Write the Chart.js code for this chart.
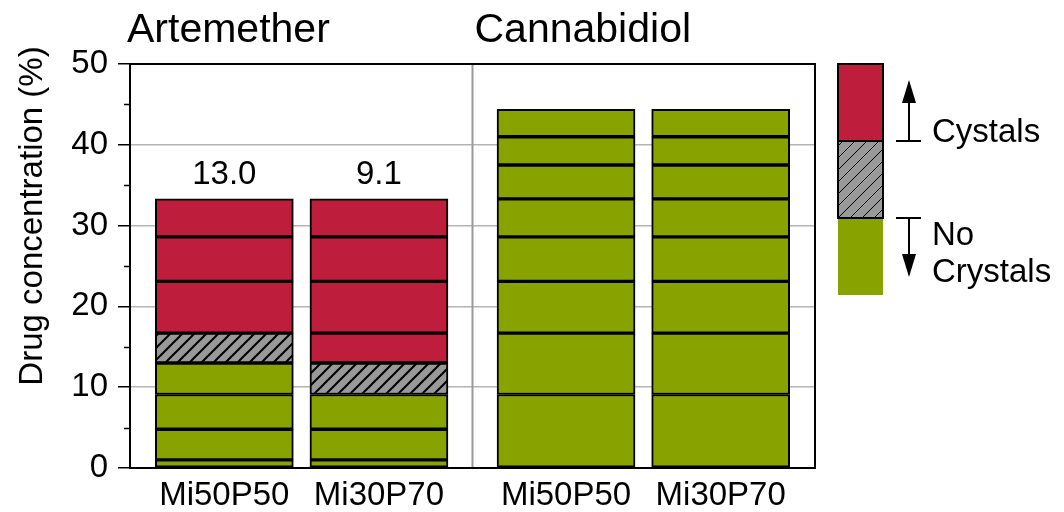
<!DOCTYPE html>
<html>
<head>
<meta charset="utf-8">
<script src="https://cdn.jsdelivr.net/npm/chart.js@4"></script>
<style>
html,body{margin:0;padding:0;background:#fff;}
</style>
</head>
<body>
<canvas id="grafica" width="1064" height="512"></canvas>
<script>
// datos
var farmacos = ['Artemether', 'Cannabidiol'];
var formulaciones = ['Mi50P50', 'Mi30P70', 'Mi50P50', 'Mi30P70'];
var posX = [0.61, 1.61, 2.82, 3.82];
var nivelesArtemether = [0, 1.0, 4.8, 9.1, 13.0, 16.7, 23.1, 28.6, 33.3];
var nivelesCannabidiol = [0, 9.1, 16.7, 23.1, 28.6, 33.3, 37.5, 41.0, 44.4];
var maxSinCristales = [13.0, 9.1, 44.4, 44.4];
var etiquetasBarra = ['13.0', '9.1', '', ''];
var ticksY = [0, 10, 20, 30, 40, 50];

var niveles = [nivelesArtemether, nivelesArtemether, nivelesCannabidiol, nivelesCannabidiol];

var rojo = '#be1e3c';
var verde = '#88a300';
var fuente = "'Liberation Sans', Arial, sans-serif";

function crearRayado(grosor){
    var c = document.createElement('canvas');
    c.width = 12; c.height = 12;
    var g = c.getContext('2d');
    g.fillStyle = '#999999';
    g.fillRect(0, 0, 12, 12);
    g.strokeStyle = '#000';
    g.lineWidth = grosor;
    g.beginPath();
    g.moveTo(-2, 14); g.lineTo(14, -2);
    g.moveTo(-8, 8); g.lineTo(8, -8);
    g.moveTo(4, 20); g.lineTo(20, 4);
    g.stroke();
    return g.createPattern(c, 'repeat');
}
var rayado = crearRayado(2);
var rayadoLeyenda = crearRayado(1);

function colorSegmento(barra, k){
    var lo = niveles[barra][k];
    var hi = niveles[barra][k + 1];
    if(hi <= maxSinCristales[barra]) return verde;
    if(lo == maxSinCristales[barra]) return rayado;
    return rojo;
}

var datasets = [];
for(var k = 0; k < 8; k++){
    var datos = [];
    var colores = [];
    for(var i = 0; i < 4; i++){
        datos.push({x: posX[i], y: [niveles[i][k], niveles[i][k + 1]]});
        colores.push(colorSegmento(i, k));
    }
    datasets.push({
        data: datos,
        backgroundColor: colores,
        borderColor: '#000',
        borderWidth: 2,
        borderSkipped: false,
        barThickness: 138,
        grouped: false
    });
}

var extras = {
    id: 'extras',
    beforeDatasetsDraw: function(chart){
        var ctx = chart.ctx;
        var a = chart.chartArea;
        var xs = chart.scales.x;
        var mitad = (xs.min + xs.max) / 2;
        ctx.save();
        ctx.strokeStyle = '#999';
        ctx.lineWidth = 2;
        ctx.beginPath();
        ctx.moveTo(xs.getPixelForValue(mitad), a.top);
        ctx.lineTo(xs.getPixelForValue(mitad), a.bottom);
        ctx.stroke();
        ctx.restore();
    },
    afterDatasetsDraw: function(chart){
        var ctx = chart.ctx;
        var a = chart.chartArea;
        var ys = chart.scales.y;
        var xs = chart.scales.x;
        ctx.save();
        // marco
        ctx.strokeStyle = '#000';
        ctx.lineWidth = 2;
        ctx.strokeRect(a.left, a.top, a.right - a.left, a.bottom - a.top);
        // ticks menores
        ctx.beginPath();
        for(var v = 5; v < 50; v += 10){
            var py = Math.round(ys.getPixelForValue(v)) + 0.5;
            ctx.moveTo(a.left - 6, py);
            ctx.lineTo(a.left, py);
        }
        ctx.lineWidth = 1.5;
        ctx.stroke();
        // etiquetas sobre barras
        ctx.fillStyle = '#000';
        ctx.font = '33px ' + fuente;
        ctx.textAlign = 'center';
        ctx.textBaseline = 'alphabetic';
        var arriba = chart.getDatasetMeta(7).data;
        for(var i = 0; i < 4; i++){
            if(etiquetasBarra[i] != ''){
                ctx.fillText(etiquetasBarra[i], arriba[i].x, arriba[i].y - 15);
            }
        }
        // titulos de grupo
        ctx.textAlign = 'left';
        ctx.font = '41px ' + fuente;
        var mitad = xs.getPixelForValue((xs.min + xs.max) / 2);
        ctx.fillText(farmacos[0], a.left - 3, 42);
        ctx.fillText(farmacos[1], mitad + 2, 42);
        // titulo eje y
        ctx.save();
        ctx.translate(42, 216);
        ctx.rotate(-Math.PI / 2);
        ctx.textAlign = 'center';
        ctx.font = '33px ' + fuente;
        ctx.fillText('Drug concentration (%)', 0, 0);
        ctx.restore();
        ctx.restore();
    },
    afterDraw: function(chart){
        var ctx = chart.ctx;
        ctx.save();
        ctx.fillStyle = rojo;
        ctx.fillRect(838, 64, 45, 77);
        ctx.fillStyle = rayadoLeyenda;
        ctx.fillRect(838, 141, 45, 77);
        ctx.fillStyle = verde;
        ctx.fillRect(838, 218, 45, 77);
        ctx.strokeStyle = '#000';
        ctx.lineWidth = 2;
        ctx.strokeRect(838, 64, 45, 77);
        ctx.strokeRect(838, 141, 45, 77);
        // flechas
        ctx.beginPath();
        ctx.moveTo(896, 141); ctx.lineTo(921, 141);
        ctx.moveTo(909, 141); ctx.lineTo(909, 100);
        ctx.moveTo(896, 218); ctx.lineTo(921, 218);
        ctx.moveTo(909, 218); ctx.lineTo(909, 258);
        ctx.lineWidth = 2;
        ctx.stroke();
        ctx.fillStyle = '#000';
        ctx.beginPath();
        ctx.moveTo(902, 103); ctx.lineTo(916, 103); ctx.lineTo(909, 80); ctx.closePath();
        ctx.fill();
        ctx.beginPath();
        ctx.moveTo(902, 254); ctx.lineTo(916, 254); ctx.lineTo(909, 277); ctx.closePath();
        ctx.fill();
        ctx.font = '33px ' + fuente;
        ctx.textAlign = 'left';
        ctx.textBaseline = 'alphabetic';
        ctx.fillText('Cystals', 932, 142);
        ctx.fillText('No', 932, 245);
        ctx.fillText('Crystals', 932, 282);
        ctx.restore();
    }
};

var chart = new Chart(document.getElementById('grafica'), {
    type: 'bar',
    data: {datasets: datasets},
    plugins: [extras],
    options: {
        responsive: false,
        animation: false,
        devicePixelRatio: 1,
        layout: {padding: {top: 64, right: 249, left: 0, bottom: 0}},
        plugins: {legend: {display: false}, tooltip: {enabled: false}},
        scales: {
            x: {
                type: 'linear',
                min: 0,
                max: 4.43,
                offset: false,
                afterBuildTicks: function(scale){
                    scale.ticks = posX.map(function(v){ return {value: v}; });
                },
                afterFit: function(scale){ scale.height = 44; },
                ticks: {
                    autoSkip: false,
                    maxRotation: 0,
                    padding: 0,
                    color: '#000',
                    font: {size: 33, family: fuente},
                    callback: function(v, idx){ return formulaciones[idx]; }
                },
                grid: {display: false, offset: false},
                border: {display: false}
            },
            y: {
                min: 0,
                max: 50,
                afterBuildTicks: function(scale){
                    var t = [];
                    for(var v = 0; v <= 50; v += 5) t.push({value: v});
                    scale.ticks = t;
                },
                afterFit: function(scale){ scale.width = 130; },
                ticks: {
                    padding: 10,
                    color: '#000',
                    font: {size: 33, family: fuente},
                    callback: function(v){ return ticksY.indexOf(v) >= 0 ? String(v) : ''; }
                },
                grid: {
                    color: function(c){ return c.tick && c.tick.value % 10 == 0 ? '#b4b4b4' : '#dedede'; },
                    lineWidth: 1.5,
                    tickLength: 12,
                    tickColor: function(c){ return c.tick && c.tick.value % 10 == 0 ? '#000' : 'rgba(0,0,0,0)'; },
                    tickWidth: 1.5
                },
                border: {display: false}
            }
        }
    }
});
</script>
</body>
</html>
